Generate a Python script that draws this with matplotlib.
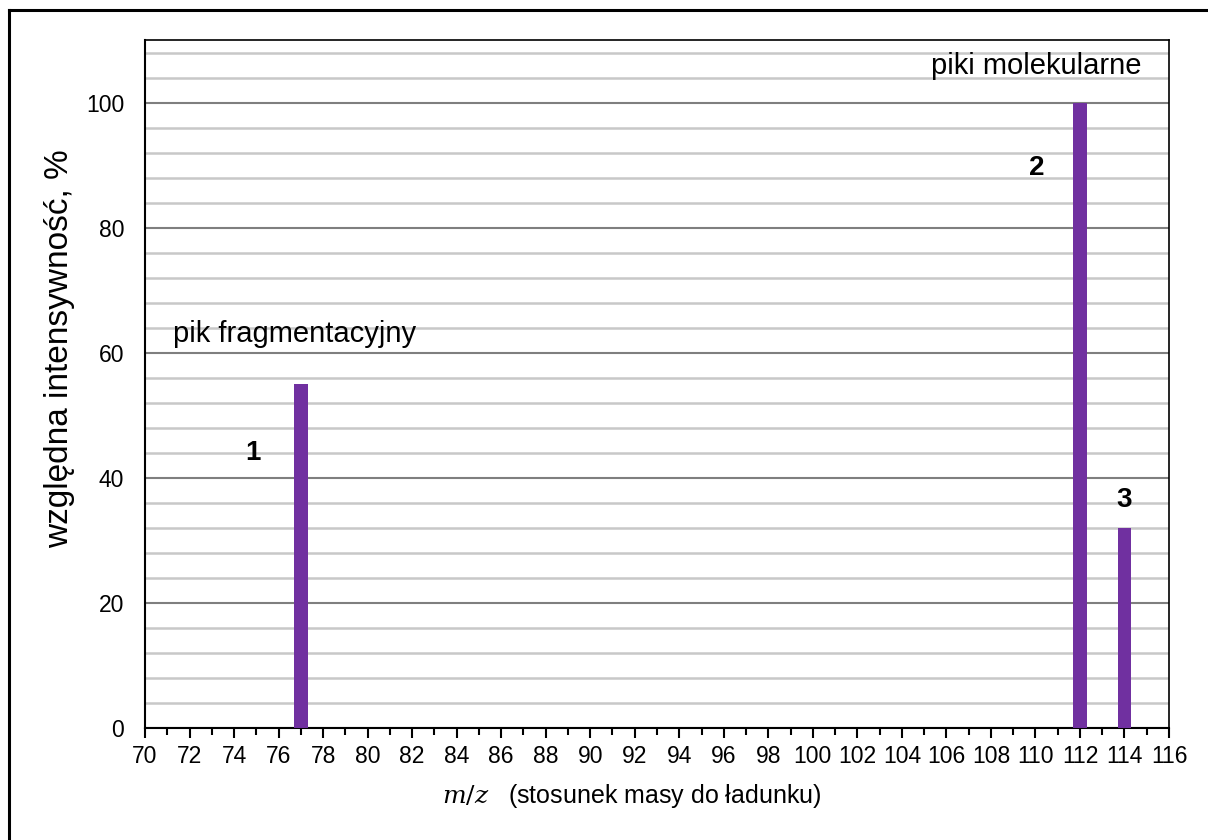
import numpy as np
import matplotlib.pyplot as plt
from matplotlib.lines import Line2D

plt.rcParams['font.family'] = ['Liberation Sans', 'DejaVu Sans']
plt.rcParams['mathtext.fontset'] = 'dejavuserif'

# dane widma
mz = [77, 112, 114]
intensywnosc = [55, 100, 32]
numery = ['1', '2', '3']
numery_x = [74.85, 110.07, 114.0]
numery_y = [43.9, 89.6, 36.4]

fig = plt.figure(figsize=(12.08, 8.4), dpi=100)
ax = fig.add_axes([145 / 1208, 112 / 840, 1024 / 1208, 688 / 840])

ax.bar(mz, intensywnosc, width=0.6, color='#7030A0', zorder=3)

ax.set_xlim(70, 116)
ax.set_ylim(0, 110)
ax.set_xticks(np.arange(70, 117, 2))
ax.set_xticks(np.arange(70, 117, 1), minor=True)
ax.set_yticks(np.arange(0, 101, 20))
ax.set_yticks(np.arange(0, 110, 4), minor=True)

ax.grid(True, which='minor', axis='y', color='#c8c8c8', linewidth=1.8, zorder=1)
ax.grid(True, which='major', axis='y', color='#7f7f7f', linewidth=1.5, zorder=2)
ax.tick_params(axis='x', which='major', direction='out', length=7, width=1.5, labelsize=16.5, pad=5)
ax.tick_params(axis='x', which='minor', direction='out', length=5, width=1.5)
ax.tick_params(axis='y', which='both', length=0, labelsize=16.5, pad=15)
for s in ax.spines.values():
    s.set_linewidth(1.5)
ax.spines['top'].set_linewidth(1.2)
ax.spines['right'].set_linewidth(1.2)

ax.set_ylabel('względna intensywność, %', fontsize=24)
ax.yaxis.set_label_coords(-0.068, 0.551)
ax.set_xlabel(r'$m/z$   (stosunek masy do ładunku)', fontsize=18)
ax.xaxis.set_label_coords(0.475, -0.079)

ax.text(71.26, 61.7, 'pik fragmentacyjny', fontsize=21, ha='left', va='baseline')
ax.text(105.3, 104.6, 'piki molekularne', fontsize=21, ha='left', va='baseline')
for n, x, y in zip(numery, numery_x, numery_y):
    ax.text(x, y, n, fontsize=20, fontweight='bold', ha='center', va='center')

# ramka wokół rysunku (tylko lewa i górna krawędź)
fig.add_artist(Line2D([8.5 / 1208, 8.5 / 1208], [0, 1 - 10 / 840], color='black', linewidth=2.2, transform=fig.transFigure))
fig.add_artist(Line2D([8.5 / 1208, 1], [1 - 10 / 840, 1 - 10 / 840], color='black', linewidth=2.2, transform=fig.transFigure))

fig.savefig('out.png', dpi=100)
